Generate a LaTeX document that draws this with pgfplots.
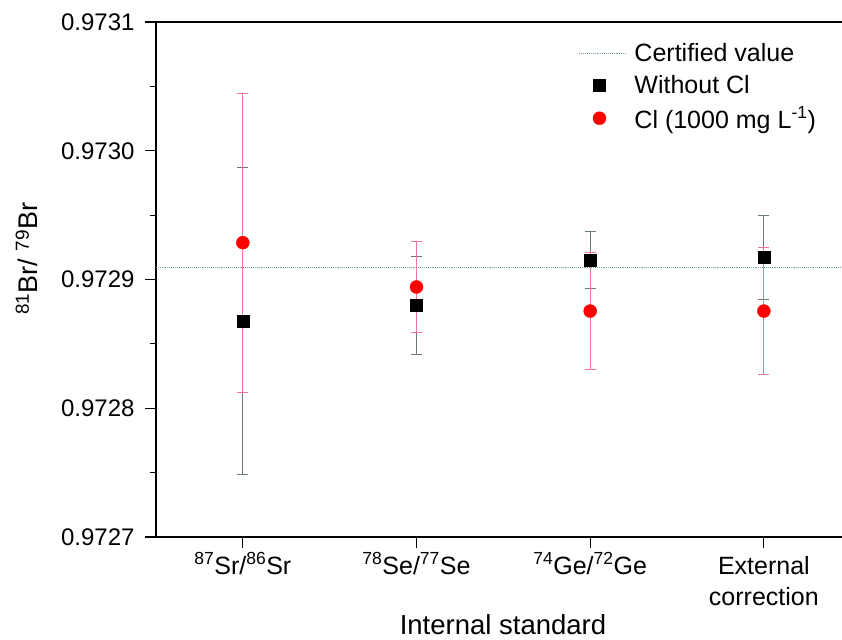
\documentclass[border=0pt]{standalone}
\usepackage{pgfplots}
\pgfplotsset{compat=1.18}
\usepackage{pgfplotstable}
\usepackage{fontspec}
\setmainfont{Liberation Sans}
\definecolor{pinkbar}{RGB}{240,115,160}
\definecolor{graybar}{RGB}{105,122,118}
\definecolor{certline}{RGB}{120,160,160}
\definecolor{clred}{RGB}{255,0,0}

\pgfplotsset{
  lineleg/.style={legend image code/.code={\path[draw=none] (0pt,0pt) -- (53pt,0pt); \draw[##1] (0pt,0pt) -- (47pt,0pt);}},
  markleg/.style={legend image code/.code={\path[draw=none] (0pt,0pt) -- (53pt,0pt); \path[##1, draw=none] plot coordinates {(20pt,0pt)};}},
}

% y values in units of 1e-4 above 0.9727  (value = 0.9727 + y*1e-4)
\pgfplotstableread{
x   y      e
0   1.678  1.19
1   1.800  0.38
2   2.151  0.222
3   2.170  0.328
}\withoutcl
\pgfplotstableread{
x   y      e
0   2.286  1.16
1   1.942  0.352
2   1.755  0.453
3   1.755  0.492
}\withcl

\begin{document}
\begin{tikzpicture}
\begin{axis}[
  scale only axis, width=686pt, height=515pt,
  xmin=-0.5, xmax=3.45, ymin=0, ymax=4,
  clip=false,
  axis lines=left, axis line style={-, line width=1.3pt},
  tick align=outside, tick style={line width=1.1pt, black},
  major tick length=11pt, minor tick length=6pt,
  xtick={0,1,2,3},
  xticklabels={\textsuperscript{87}Sr/\textsuperscript{86}Sr,
               \textsuperscript{78}Se/\textsuperscript{77}Se,
               \textsuperscript{74}Ge/\textsuperscript{72}Ge,
               {\begin{tabular}[t]{@{}c@{}}External\\correction\end{tabular}}},
  xticklabel style={font=\fontsize{25}{31}\selectfont, anchor=base, yshift=-26pt},
  ytick={0,1,2,3,4},
  yticklabels={0.9727,0.9728,0.9729,0.9730,0.9731},
  minor ytick={0.5,1.5,2.5,3.5},
  yticklabel style={font=\fontsize{24}{28}\selectfont, xshift=-7pt},
  xlabel={Internal standard},
  xlabel style={font=\fontsize{27.5}{32}\selectfont, at={(rel axis cs:0.5,0)}, anchor=center, xshift=4pt, yshift=-88pt},
  ylabel={\textsuperscript{81}Br/ \textsuperscript{79}Br},
  ylabel style={font=\fontsize{27}{32}\selectfont, at={(rel axis cs:0,0.54)}, anchor=center, yshift=129pt},
  legend style={at={(rel axis cs:0.612,0.966)}, anchor=north west, draw=none, fill=none,
    font=\fontsize{25}{30}\selectfont, row sep=8pt, cells={anchor=west}},
]
% certified value
\addplot[certline, densely dotted, line width=0.9pt, lineleg]
  coordinates {(-0.5,2.09) (3.45,2.09)};
\addlegendentry{Certified value}
% error bars (drawn first)
\addplot[graybar, only marks, mark=none, forget plot,
  error bars/.cd, y dir=both, y explicit,
  error bar style={graybar, line width=0.9pt},
  error mark options={rotate=90, mark size=5.5pt, graybar, line width=0.9pt}]
  table[x=x, y=y, y error=e] {\withoutcl};
\addplot[pinkbar, only marks, mark=none, forget plot,
  error bars/.cd, y dir=both, y explicit,
  error bar style={pinkbar, line width=0.9pt},
  error mark options={rotate=90, mark size=5.5pt, pinkbar, line width=0.9pt}]
  table[x=x, y=y, y error=e] {\withcl};
% markers
\addplot[only marks, mark=square*, mark size=6pt, mark options={fill=black, draw=black}, markleg]
  table[x=x, y=y] {\withoutcl};
\addlegendentry{Without Cl}
\addplot[only marks, mark=*, mark size=6.5pt, mark options={fill=clred, draw=clred}, markleg]
  table[x=x, y=y] {\withcl};
\addlegendentry{Cl (1000 mg L\textsuperscript{-1})}
% top frame line
\draw[line width=1.3pt] (rel axis cs:0,1) -- (rel axis cs:1,1);
\end{axis}
\pgfresetboundingbox
\useasboundingbox (-156pt,-102pt) rectangle (686pt,537pt);
\end{tikzpicture}
\end{document}
